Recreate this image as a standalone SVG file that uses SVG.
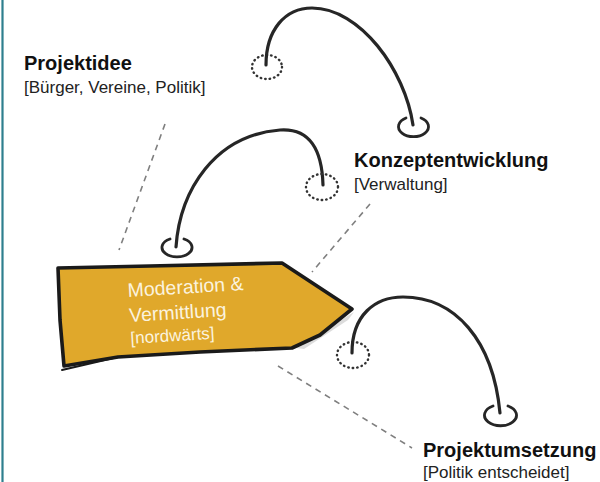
<svg xmlns="http://www.w3.org/2000/svg" width="600" height="482" viewBox="0 0 600 482">
  <style>
    .title { font-family: "Liberation Sans", Arial, sans-serif; font-weight: bold; font-size: 20px; fill: #111; }
    .sub { font-family: "Liberation Sans", Arial, sans-serif; font-size: 17px; fill: #222; }
    .sign-text { font-family: "Liberation Sans", Arial, sans-serif; fill: #FBF3DF; }
    .arc { fill: none; stroke: #262626; stroke-width: 3.2; stroke-linecap: round; }
    .loop { fill: none; stroke: #262626; stroke-width: 2.8; stroke-linecap: round; }
    .dotloop { fill: none; stroke: #333; stroke-width: 2.4; stroke-dasharray: 0.5 4; stroke-linecap: round; }
    .dash { fill: none; stroke: #7f7f7f; stroke-width: 1.6; stroke-dasharray: 6 5; }
  </style>
  <rect x="0" y="0" width="600" height="482" fill="#ffffff"/>
  <line x1="2.5" y1="0" x2="2.5" y2="482" stroke="#2E7F8E" stroke-width="2.2"/>

  <g id="connectors">
    <line class="dash" x1="165" y1="124" x2="119" y2="250"/>
    <line class="dash" x1="370" y1="204" x2="312" y2="272"/>
    <line class="dash" x1="278" y1="366" x2="412" y2="448"/>

    <ellipse class="dotloop" cx="267" cy="67" rx="15" ry="12"/>
    <path class="arc" d="M266,65 C266,30 285,8 312,8 C360,8 405,70 413,125"/>
    <path class="loop" d="M406,118 A15,10 0 1 0 421,118"/>

    <path class="loop" d="M170,239 A15,9.5 0 1 0 184,239"/>
    <path class="arc" d="M176,247 C180,190 215,135 280,130 C310,128 322,150 323,185"/>
    <ellipse class="dotloop" cx="322" cy="187" rx="16" ry="13"/>

    <ellipse class="dotloop" cx="353" cy="355" rx="16" ry="13"/>
    <path class="arc" d="M352,353 C352,315 375,297 403,297 C455,297 493,340 500,413"/>
    <path class="loop" d="M493,406 A16,10.5 0 1 0 508,406"/>
  </g>

  <g id="node-projektidee">
    <text class="title" x="24" y="70">Projektidee</text>
    <text class="sub" x="24" y="93">[Bürger, Vereine, Politik]</text>
  </g>

  <g id="node-konzeptentwicklung">
    <text class="title" x="354" y="167">Konzeptentwicklung</text>
    <text class="sub" x="354" y="190">[Verwaltung]</text>
  </g>

  <g id="node-projektumsetzung">
    <text class="title" x="423" y="457">Projektumsetzung</text>
    <text class="sub" x="423" y="478">[Politik entscheidet]</text>
  </g>

  <g id="node-moderation">
    <path d="M296,348 L354,312 L348,320 L304,349 Z" fill="#dcdcdc"/>
    <path d="M58,268 L150,266 L282,263 L352,309 L320,335 L292,348 L200,352 L118,357 L64,366 L60,320 Z"
          fill="#E0A82B" stroke="#1a1a1a" stroke-width="3.6" stroke-linejoin="round"/>
    <path d="M118,357 L62,370" stroke="#1a1a1a" stroke-width="2" fill="none" stroke-linecap="round"/>
    <g transform="rotate(-3.5 128 297)">
      <text class="sign-text" x="128" y="297" font-size="19.5">Moderation &amp;</text>
      <text class="sign-text" x="128" y="322" font-size="19.5">Vermittlung</text>
      <text class="sign-text" x="128" y="344" font-size="17">[nordwärts]</text>
    </g>
  </g>
</svg>
